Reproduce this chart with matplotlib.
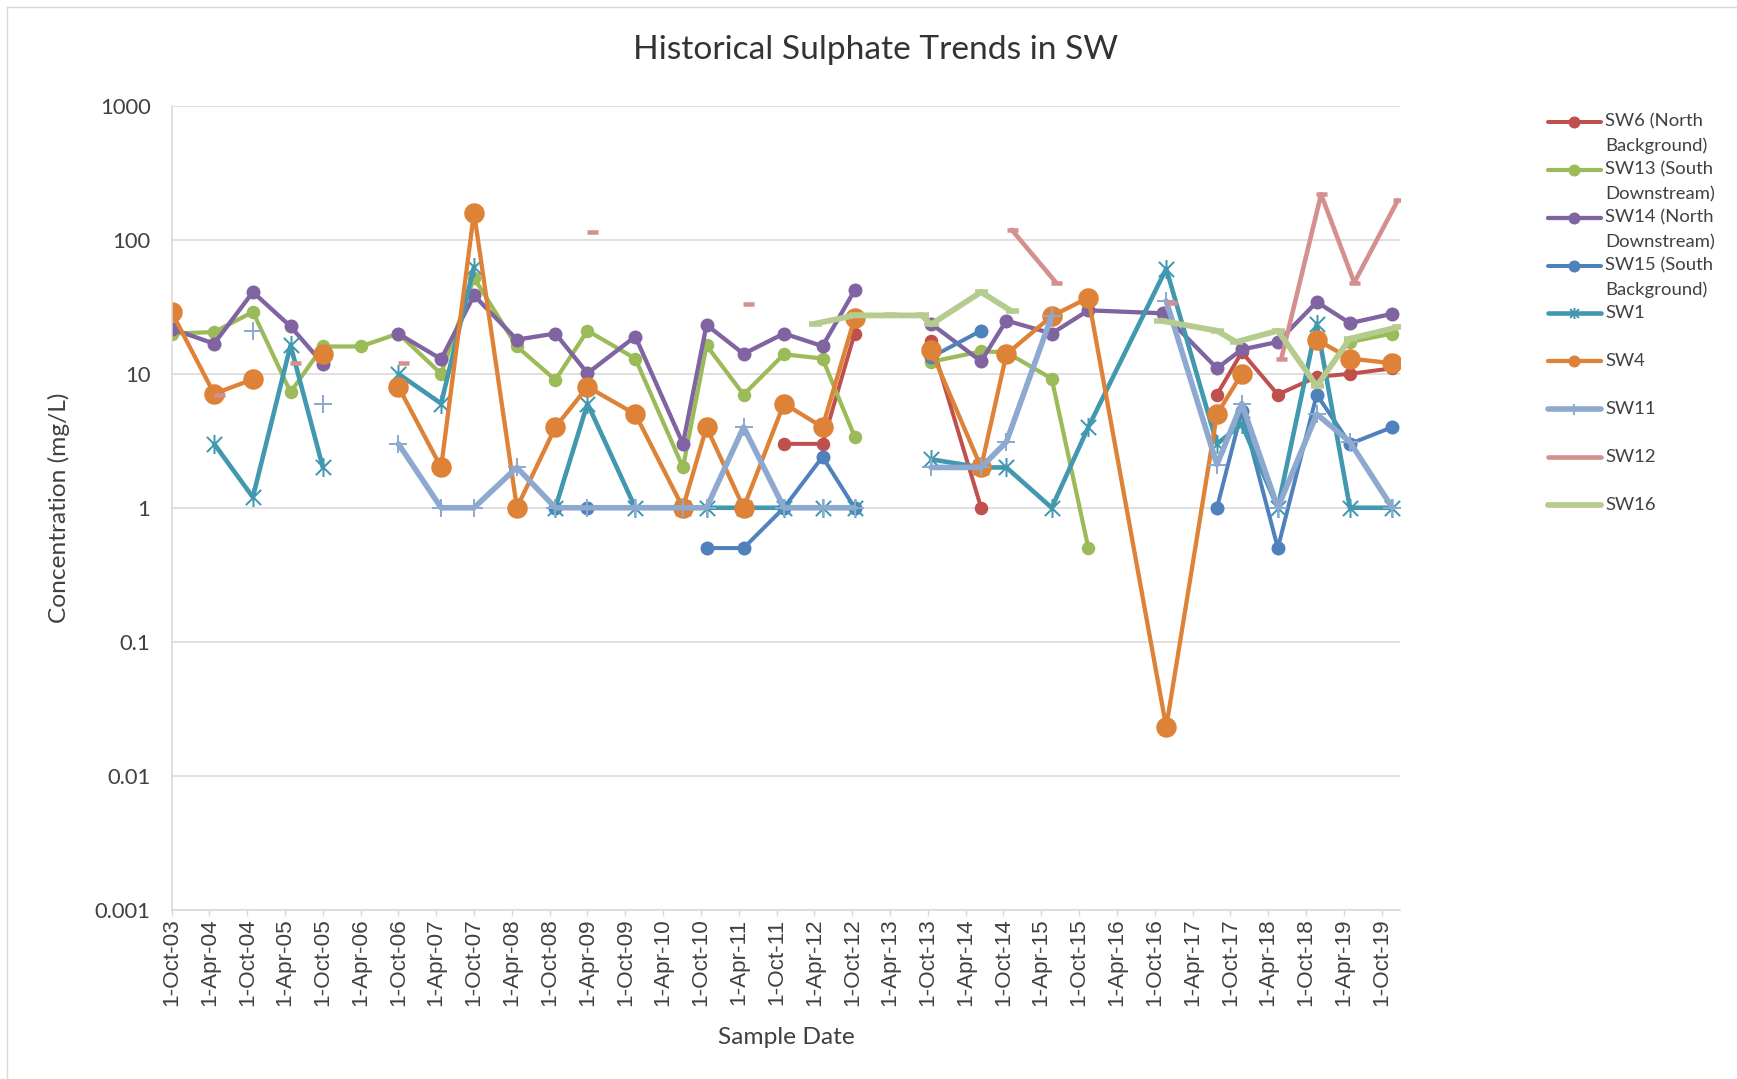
import numpy as np
import pandas as pd
import matplotlib
matplotlib.use("Agg")
import matplotlib.pyplot as plt
from matplotlib.lines import Line2D
from matplotlib.path import Path
from matplotlib.ticker import FixedLocator, FixedFormatter, NullLocator

# ---------------- data (sulphate, mg/L) ----------------
sw6_dates = ["2011-11-06", "2012-05-10", "2012-10-12", "2013-04-01", "2013-10-16", "2014-06-15",
             "2015-05-22", "2017-07-28", "2017-11-25", "2018-05-18", "2018-11-22", "2019-05-01",
             "2019-11-22"]
sw6_vals = [3.0, 3.0, 20, None, 17.6, 1.0, None, 7.0, 14.5, 7.0, 9.5, 10, 11]

sw13_dates = ["2003-10-01", "2004-04-24", "2004-10-28", "2005-04-28", "2005-10-01", "2006-04-01",
              "2006-10-01", "2007-04-25", "2007-10-01", "2008-04-25", "2008-10-28", "2009-04-01",
              "2009-11-18", "2010-07-06", "2010-10-28", "2011-04-25", "2011-11-06", "2012-05-10",
              "2012-10-12", "2013-04-01", "2013-10-16", "2014-06-15", "2014-10-15", "2015-05-22",
              "2015-11-15", "2016-11-25", "2019-05-01", "2019-11-22"]
sw13_vals = [20, 20.5, 29, 7.3, 16, 16, 20, 10, 52, 16, 9, 21, 13, 2.0, 16.3, 7.0, 14, 13, 3.4,
             None, 12.3, 14.7, 14.5, 9.2, 0.5, None, 17.3, 20]

sw14_dates = ["2003-10-01", "2004-04-24", "2004-10-28", "2005-04-28", "2005-10-01", "2006-04-01",
              "2006-10-01", "2007-04-25", "2007-10-01", "2008-04-25", "2008-10-28", "2009-04-01",
              "2009-11-18", "2010-07-06", "2010-10-28", "2011-04-25", "2011-11-06", "2012-05-10",
              "2012-10-12", "2013-04-01", "2013-10-16", "2014-06-15", "2014-10-15", "2015-05-22",
              "2015-11-15", "2016-11-10", "2017-07-28", "2017-11-25", "2018-05-18", "2018-11-22",
              "2019-05-01", "2019-11-22"]
sw14_vals = [21.7, 16.8, 40.8, 22.6, 11.9, None, 19.9, 12.9, 38.5, 18, 20, 10.1, 19, 3.0, 23.2,
             14.1, 20, 16.1, 42, None, 23.7, 12.4, 25, 20, 29.8, 28.3, 11, 15.2, 17.3, 34.4,
             23.9, 28.1]

sw15_dates = ["2008-10-28", "2009-04-01", "2009-11-18", "2010-10-28", "2011-04-25", "2011-11-06",
              "2012-05-10", "2012-10-12", "2013-04-01", "2013-10-16", "2014-06-15", "2015-05-22",
              "2017-07-28", "2017-11-25", "2018-05-18", "2018-11-22", "2019-05-01", "2019-11-22"]
sw15_vals = [1, 1, None, 0.5, 0.5, 1, 2.4, 1, None, 13.3, 21, None, 1.0, 5.3, 0.5, 7.0, 3.0, 4.0]

sw1_dates = ["2004-04-24", "2004-10-28", "2005-04-28", "2005-10-01", "2006-04-01", "2006-10-01",
             "2007-04-25", "2007-10-01", "2008-04-25", "2008-10-28", "2009-04-01", "2009-11-18",
             "2010-07-06", "2010-10-28", "2011-04-25", "2011-11-06", "2012-05-10", "2012-10-12",
             "2013-04-01", "2013-10-16", "2014-06-15", "2014-10-15", "2015-05-22", "2015-11-15",
             "2016-11-25", "2017-07-28", "2017-11-25", "2018-05-18", "2018-11-22", "2019-05-01",
             "2019-11-22"]
sw1_vals = [3.0, 1.2, 16.3, 2.0, None, 10, 6.0, 63, None, 1, 6.0, 1, 1, 1, 1, 1, 1, 1, None,
            2.3, 2.0, 2.0, 1.0, 4.0, 61, 3.0, 4.2, 1.0, 23.6, 1.0, 1.0]

sw4_dates = ["2003-10-01", "2004-04-24", "2004-10-28", "2005-04-28", "2005-10-01", "2006-04-01",
             "2006-10-01", "2007-04-25", "2007-10-01", "2008-04-25", "2008-10-28", "2009-04-01",
             "2009-11-18", "2010-07-06", "2010-10-28", "2011-04-25", "2011-11-06", "2012-05-10",
             "2012-10-12", "2013-04-01", "2013-10-16", "2014-06-15", "2014-10-15", "2015-05-22",
             "2015-11-15", "2016-11-25", "2017-07-28", "2017-11-25", "2018-05-18", "2018-11-22",
             "2019-05-01", "2019-11-22"]
sw4_vals = [29, 7.1, 9.1, None, 14, None, 8, 2.0, 160, 1.0, 4.0, 8, 5.0, 1.0, 4.0, 1.0, 6.0,
            4.0, 26, None, 15, 2.0, 14, 27, 37, 0.023, 5.0, 10, None, 18, 13, 12]

sw11_dates = ["2004-10-28", "2005-04-28", "2005-10-01", "2006-04-01", "2006-10-01", "2007-04-25",
              "2007-10-01", "2008-04-25", "2008-10-28", "2009-04-01", "2009-11-18", "2010-07-06",
              "2010-10-28", "2011-04-25", "2011-11-06", "2012-05-10", "2012-10-12", "2013-04-01",
              "2013-10-16", "2014-06-15", "2014-10-15", "2015-05-22", "2015-11-15", "2016-11-25",
              "2017-07-28", "2017-11-25", "2018-05-18", "2018-11-22", "2019-05-01", "2019-11-22"]
sw11_vals = [21, None, 6, None, 3.0, 1, 1, 2, 1, 1, 1, 1, 1, 4, 1, 1, 1, None, 2.0, 2.0, 3.1,
             27, None, 35, 2.1, 6.0, 1.0, 5.0, 3.1, 1.0]

sw12_dates = ["2004-05-18", "2004-11-15", "2005-05-20", "2006-04-01", "2006-10-21", "2008-01-01",
              "2009-04-21", "2010-06-01", "2011-05-18", "2013-01-01", "2014-11-10", "2015-06-12",
              "2016-01-01", "2016-12-20", "2017-08-01", "2018-06-04", "2018-12-13", "2019-05-22",
              "2019-12-18"]
sw12_vals = [7, None, 12, None, 12, None, 115, None, 33, None, 119, 48, None, 34, None, 13, 219,
             48, 197]

sw16_dates = ["2012-04-04", "2012-10-12", "2013-04-01", "2013-09-01", "2013-10-16", "2014-06-15",
              "2014-11-10", "2015-11-15", "2016-10-25", "2017-07-28", "2017-10-28", "2018-05-18",
              "2018-11-22", "2019-05-01", "2019-12-18"]
sw16_vals = [23.7, 27.3, 27.3, 27.3, 23.4, 40.8, 29.3, None, 25, 21, 17.3, 21, 8.1, 18.3, 22.3]

y_ticks = [0.001, 0.01, 0.1, 1, 10, 100, 1000]
y_tick_labels = ["0.001", "0.01", "0.1", "1", "10", "100", "1000"]

# ---------------- styling ----------------
W, H = 1737, 1079
PT = 72 / 100.0  # points per pixel at 100 dpi

TEXT = "#404040"
GRID = "#D9D9D9"
CAL = ["Lato", "DejaVu Sans"]

# Excel-style asterisk: an X with a vertical bar through it
star = Path([(-1, -1), (1, 1), (-1, 1), (1, -1), (0, -1.25), (0, 1.25)],
            [Path.MOVETO, Path.LINETO, Path.MOVETO, Path.LINETO, Path.MOVETO, Path.LINETO])

series = [
    ("SW6 (North\nBackground)", sw6_dates, sw6_vals,
     dict(color="#C0504D", lw=4.0 * PT, marker="o", ms=13.5 * PT, mew=0)),
    ("SW13 (South\nDownstream)", sw13_dates, sw13_vals,
     dict(color="#9BBB59", lw=4.2 * PT, marker="o", ms=13.5 * PT, mew=0)),
    ("SW14 (North\nDownstream)", sw14_dates, sw14_vals,
     dict(color="#8064A2", lw=4.3 * PT, marker="o", ms=14 * PT, mew=0)),
    ("SW15 (South\nBackground)", sw15_dates, sw15_vals,
     dict(color="#4F81BD", lw=4.0 * PT, marker="o", ms=14 * PT, mew=0)),
    ("SW1", sw1_dates, sw1_vals,
     dict(color="#4198AF", lw=4.6 * PT, marker=star, ms=19 * PT, mew=2.0 * PT, mfc="none")),
    ("SW4", sw4_dates, sw4_vals,
     dict(color="#DE8238", lw=4.3 * PT, marker="o", ms=20.5 * PT, mew=0)),
    ("SW11", sw11_dates, sw11_vals,
     dict(color="#8EA9D0", lw=5.6 * PT, marker="+", ms=18 * PT, mew=2.0 * PT)),
    ("SW12", sw12_dates, sw12_vals,
     dict(color="#D48F8F", lw=4.6 * PT, marker="_", ms=11 * PT, mew=4.5 * PT)),
    ("SW16", sw16_dates, sw16_vals,
     dict(color="#B5CC8E", lw=5.8 * PT, marker="_", ms=13 * PT, mew=5.5 * PT)),
]

fig = plt.figure(figsize=(W / 100, H / 100), dpi=100)
fig.patch.set_facecolor("white")

left, right, top, bottom = 171.5, 1400.0, 106.0, 909.5
ax = fig.add_axes([left / W, 1 - bottom / H, (right - left) / W, (bottom - top) / H])

for label, dates, vals, style in series:
    x = pd.to_datetime(dates).to_pydatetime()
    y = np.array([np.nan if v is None else v for v in vals], dtype=float)
    ax.plot(x, y, solid_joinstyle="round", solid_capstyle="round", **style)

ax.set_yscale("log")
ax.set_ylim(0.001, 1000)
ax.yaxis.set_major_locator(FixedLocator(y_ticks))
ax.yaxis.set_major_formatter(FixedFormatter(y_tick_labels))
ax.yaxis.set_minor_locator(NullLocator())

tick_dates = pd.date_range("2003-10-01", "2019-10-01", freq="6MS")
ax.set_xlim(pd.Timestamp("2003-10-01").to_pydatetime(), pd.Timestamp("2019-12-29").to_pydatetime())
ax.set_xticks(tick_dates.to_pydatetime())
ax.set_xticklabels([f"{d.day}-{d.strftime('%b-%y')}" for d in tick_dates])
ax.xaxis.set_minor_locator(NullLocator())

ax.grid(axis="y", color=GRID, lw=1.6 * PT)
ax.grid(axis="x", visible=False)
ax.set_axisbelow(True)
for s in ("top", "right"):
    ax.spines[s].set_visible(False)
for s in ("left", "bottom"):
    ax.spines[s].set_color(GRID)
    ax.spines[s].set_linewidth(1.6 * PT)

ax.tick_params(axis="y", length=0, pad=21 * PT, labelsize=22 * PT, labelcolor=TEXT)
ax.tick_params(axis="x", direction="out", length=6 * PT, width=1.4 * PT, color=GRID,
               pad=3 * PT, labelrotation=90, labelsize=22.5 * PT, labelcolor=TEXT)
for t in ax.get_yticklabels():
    t.set_fontfamily(CAL)
for t in ax.get_xticklabels():
    t.set_fontfamily(["Liberation Sans", "DejaVu Sans"])


def fxy(px, py):
    return px / W, 1 - py / H


# titles
fig.text(*fxy(876, 50), "Historical Sulphate Trends in SW", ha="center", va="center",
         fontsize=33.5 * PT, color="#333333", family=CAL)
fig.text(*fxy(786, 1037), "Sample Date", ha="center", va="center",
         fontsize=24.5 * PT, color=TEXT, family=CAL)
fig.text(*fxy(59, 508), "Concentration (mg/L)", ha="center", va="center", rotation=90,
         fontsize=24.5 * PT, color=TEXT, family=CAL)

# legend, drawn as a column of entries at the right
leg_y0, leg_dy, line_dy = 121.8, 47.9, 24.4
for i, (label, _, _, style) in enumerate(series):
    yy = leg_y0 + i * leg_dy
    xs = [1547.6 / W, 1600.8 / W]
    ys = [1 - yy / H] * 2
    fig.add_artist(Line2D(xs, ys, transform=fig.transFigure, color=style["color"],
                          lw=style["lw"], solid_capstyle="round"))
    if style["marker"] not in ("_",):
        mk = dict(marker=style["marker"], color=style["color"],
                  ms=min(style["ms"], 12 * PT) if style["marker"] == "o" else 11 * PT,
                  mew=style["mew"], mfc=style.get("mfc", style["color"]), ls="none")
        fig.add_artist(Line2D([1574.2 / W], [1 - yy / H], transform=fig.transFigure, **mk))
    for j, part in enumerate(label.split("\n")):
        fig.text(*fxy(1605, yy + j * line_dy), part, ha="left", va="center",
                 fontsize=18.5 * PT, color=TEXT, family=CAL)

# chart-area border
fig.add_artist(Line2D([7 / W, 7 / W], [0, 1 - 7 / H], transform=fig.transFigure, color=GRID, lw=1.4 * PT))
fig.add_artist(Line2D([7 / W, 1], [1 - 7 / H, 1 - 7 / H], transform=fig.transFigure, color=GRID, lw=1.4 * PT))

fig.savefig("out.png", dpi=100, facecolor="white")
